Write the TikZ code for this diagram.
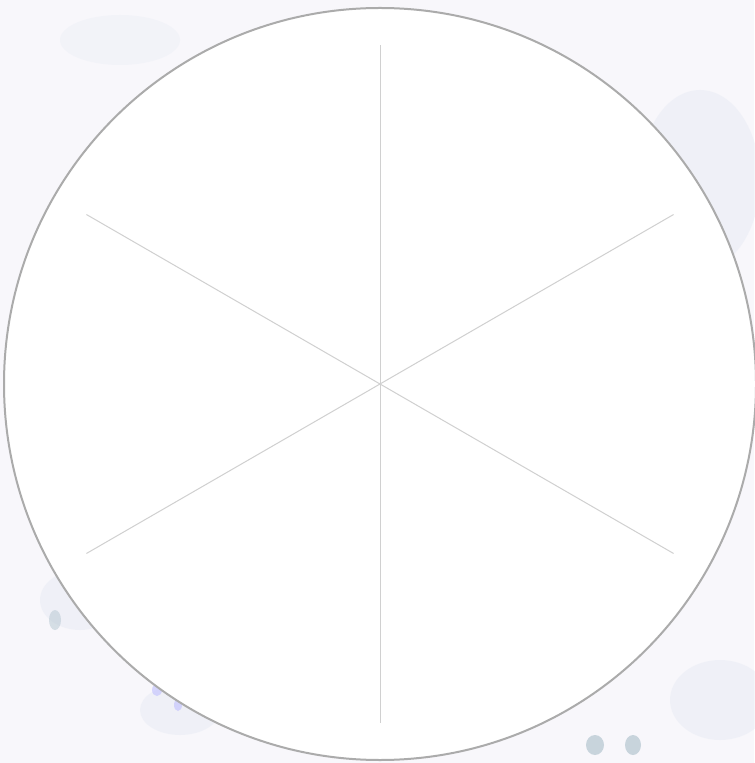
\documentclass[tikz,border=0pt]{standalone}
\usepackage{xcolor}
\usepackage{tikz}
\usetikzlibrary{positioning,calc}

\definecolor{paper}{HTML}{F8F7FB}
\definecolor{wash}{HTML}{DCE3F0}
\definecolor{petal}{HTML}{B4C6D0}
\definecolor{rim}{HTML}{ABABAB}
\definecolor{spokecol}{HTML}{D0D0D0}

\begin{document}
\begin{tikzpicture}[
    x=0.5pt, y=-0.5pt,
    wheel/.style={draw=rim, line width=1pt, fill=white},
    spoke/.style={draw=spokecol, line width=0.5pt},
    blot/.style={fill=wash, opacity=0.3}
]
    % Background paper
    \fill[paper] (0,0) rectangle (754,763);
    \useasboundingbox (0,0) rectangle (754,763);

    % Watercolour washes
    \fill[blot] (700,180) ellipse (60 and 90);
    \fill[blot] (80,600) ellipse (40 and 30);
    \fill[blot] (180,710) ellipse (40 and 25);
    \fill[blot] (720,700) ellipse (50 and 40);
    \fill[blot, opacity=0.2] (120,40) ellipse (60 and 25);
    \fill[petal, opacity=0.7] (595,745) ellipse (9 and 10);
    \fill[petal, opacity=0.7] (633,745) ellipse (8 and 10);
    \fill[petal, opacity=0.5] (55,620) ellipse (6 and 10);
    \fill[blue!25, opacity=0.6] (157,690) ellipse (5 and 6);
    \fill[blue!25, opacity=0.6] (178,705) ellipse (4 and 6);

    % Wheel
    \coordinate (hub) at (380,384);
    \draw[wheel] (hub) circle (376);

    % Spokes
    \foreach \ang [count=\i] in {90,30,-30,-90,-150,150} {
        \coordinate (tip\i) at ($(hub)+(\ang:339)$);
        \draw[spoke] (hub) -- (tip\i);
    }
\end{tikzpicture}
\end{document}
